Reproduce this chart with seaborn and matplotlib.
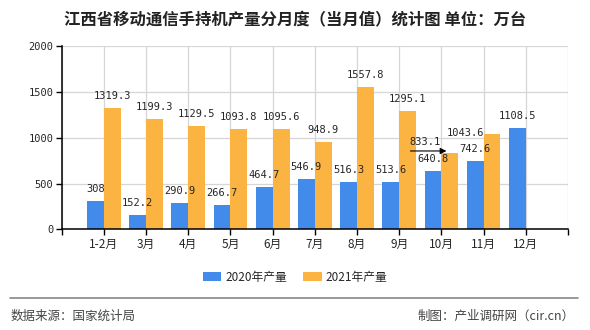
import numpy as np
import pandas as pd
import matplotlib
matplotlib.use("Agg")
import matplotlib.pyplot as plt
from matplotlib.lines import Line2D
import seaborn as sns

months = ["1-2月", "3月", "4月", "5月", "6月", "7月", "8月", "9月", "10月", "11月", "12月"]
prod_2020 = [308, 152.2, 290.9, 266.7, 464.7, 546.9, 516.3, 513.6, 640.8, 742.6, 1108.5]
prod_2021 = [1319.3, 1199.3, 1129.5, 1093.8, 1095.6, 948.9, 1557.8, 1295.1, 833.1, 1043.6, np.nan]
series_names = ["2020年产量", "2021年产量"]
colors = ["#428BEB", "#FBB342"]
yticks = [0, 500, 1000, 1500, 2000]

sns.set_theme(style="white")
plt.rcParams["font.family"] = ["Noto Sans CJK SC", "DejaVu Sans"]
plt.rcParams["axes.unicode_minus"] = False

df = pd.DataFrame({
    "月份": months * 2,
    "产量": prod_2020 + prod_2021,
    "系列": [series_names[0]] * len(months) + [series_names[1]] * len(months),
})

fig = plt.figure(figsize=(5.9, 3.3), dpi=100)
ax = fig.add_axes([0.1046, 0.305, 0.9627 - 0.1046, 0.8606 - 0.305])

sns.barplot(data=df, x="月份", y="产量", hue="系列", order=months,
            hue_order=series_names, palette=colors, width=0.8, dodge=True,
            saturation=1, ax=ax, legend=True, edgecolor="none", linewidth=0)

ax.set_xlim(-1, len(months))
ax.set_ylim(0, 2000)
ax.set_yticks(yticks)
ax.set_yticklabels([str(v) for v in yticks], family="DejaVu Sans Mono", fontsize=7.5)
xt = list(range(-1, len(months) + 1))
ax.set_xticks(xt)
ax.set_xticklabels([""] + months + [""], fontsize=8.5)
ax.set_xlabel("")
ax.set_ylabel("")
ax.grid(True, color="#D6D6D6", linewidth=0.9)
ax.set_axisbelow(True)
for s in ["top", "right"]:
    ax.spines[s].set_visible(False)
for s in ["left", "bottom"]:
    ax.spines[s].set_color("black")
    ax.spines[s].set_linewidth(1.1)
ax.tick_params(axis="both", which="both", direction="out", length=4, width=1,
               color="black", left=True, bottom=True, pad=2)

px = 0.72  # points per pixel
inv = ax.transData.inverted()
for ci, cont in enumerate(ax.containers):
    for p in cont:
        h = p.get_height()
        if h is None or np.isnan(h) or h == 0:
            continue
        xc = p.get_x() + p.get_width() / 2
        idx = int(round(xc))
        label = f"{h:g}"
        if ci == 1 and months[idx] == "10月":
            x0 = p.get_x()
            d = ax.transData.transform((x0, h))
            tip = inv.transform((d[0] + 5, d[1] + 2))
            tail = inv.transform((d[0] - 31, d[1] + 2))
            ax.annotate("", xy=tuple(tip), xytext=tuple(tail),
                        arrowprops=dict(arrowstyle="-|>", color="black", lw=0.8,
                                        mutation_scale=9, shrinkA=0, shrinkB=0))
            ax.annotate(label, xy=(x0, h), xytext=(-16 * px, 11 * px),
                        textcoords="offset points", ha="center", va="center",
                        family="DejaVu Sans Mono", fontsize=7.5)
            continue
        if ci == 1 and months[idx] == "11月":
            ax.annotate(label, xy=(xc, h), xytext=(-27 * px, 1 * px),
                        textcoords="offset points", ha="center", va="center",
                        family="DejaVu Sans Mono", fontsize=7.5)
            continue
        ax.annotate(label, xy=(xc, h), xytext=(0, 12 * px),
                    textcoords="offset points", ha="center", va="center",
                    family="DejaVu Sans Mono", fontsize=7.5)

handles, labels = ax.get_legend_handles_labels()
ax.get_legend().remove()
fig.legend(handles, labels, loc="center", bbox_to_anchor=(0.5, 1 - 277 / 330),
           ncol=2, frameon=False, fontsize=8.5, handlelength=1.6,
           handleheight=0.75, handletextpad=0.3, columnspacing=1.4)

fig.text(0.5, 1 - 20 / 330, "江西省移动通信手持机产量分月度（当月值）统计图 单位：万台",
         ha="center", va="center", fontsize=11.8, fontweight="bold", color="#222222")

fig.add_artist(Line2D([10 / 590, 578 / 590], [1 - 298 / 330] * 2,
                      color="#888888", linewidth=1.2))
fig.text(11 / 590, 1 - 316 / 330, "数据来源：国家统计局", ha="left", va="center",
         fontsize=9, color="#444444")
fig.text(575 / 590, 1 - 316 / 330, "制图：产业调研网（cir.cn）", ha="right", va="center",
         fontsize=9, color="#444444")

fig.savefig("out.png", dpi=100)
